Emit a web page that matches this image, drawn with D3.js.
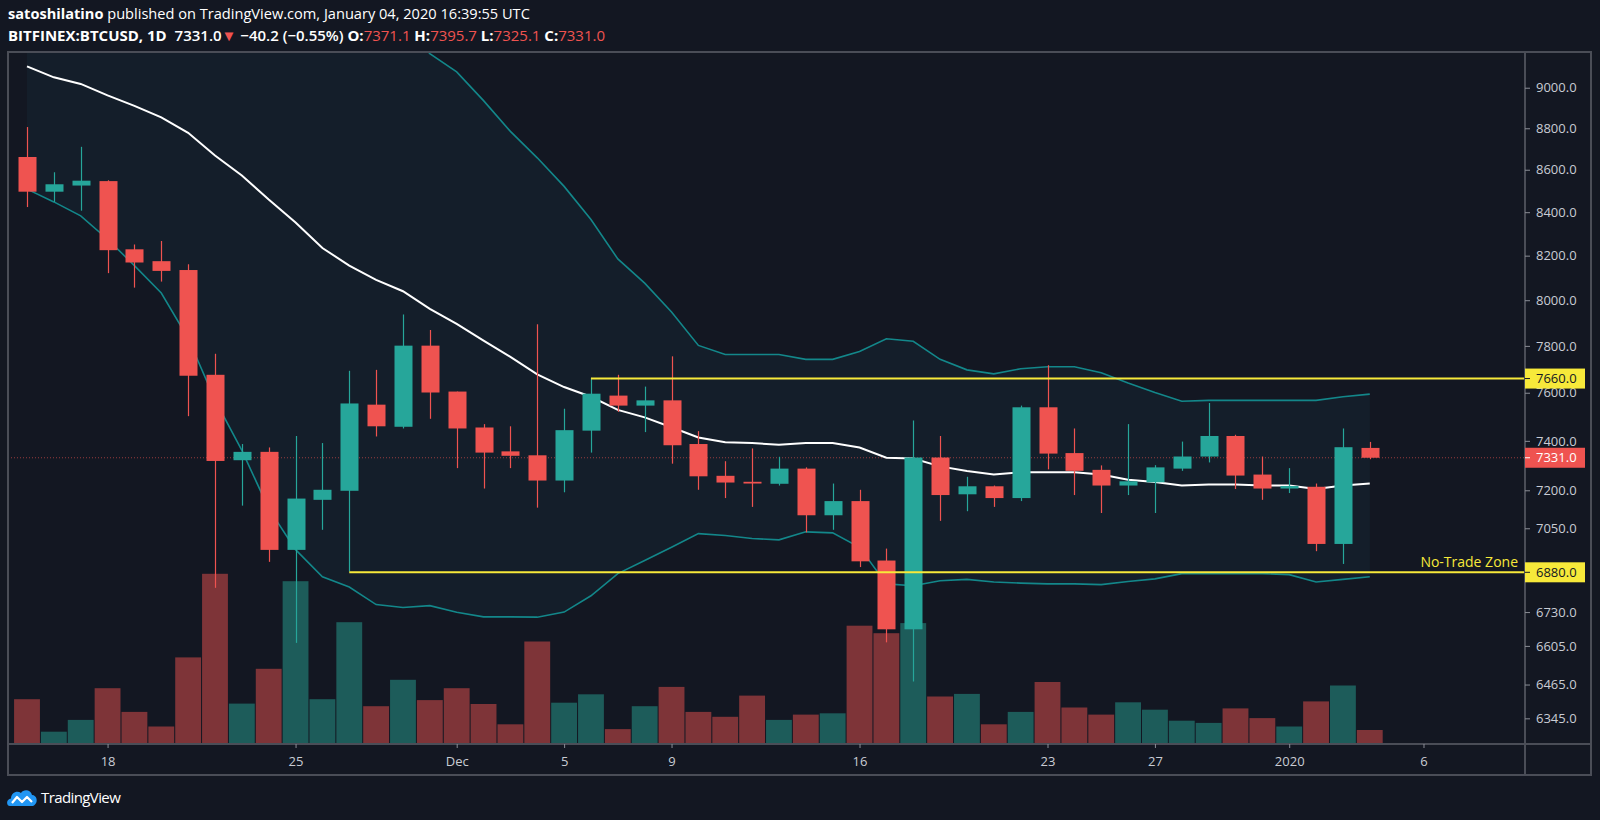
<!DOCTYPE html>
<html><head><meta charset="utf-8">
<script src="https://cdn.jsdelivr.net/npm/d3@7"></script>
<style>
html,body{margin:0;padding:0;background:#131722;}
svg{display:block;font-family:"Open Sans",sans-serif;}
</style></head><body>
<svg id="chart" width="1600" height="820"></svg>
<script>
// ---------- data ----------
const startDate = "2019-11-15";
const opens  = [8661,8496,8525,8546,8229,8175,8135,7676,7321,7355,6966,7162,7198,7550,7458,7801,7605,7455,7357,7341,7239,7442,7588,7546,7568,7387,7258,7234,7226,7287,7101,7157,6925,6666,7332,7184,7216,7169,7539,7350,7282,7219,7232,7287,7336,7420,7263,7207,7214,6989,7371.1];
const highs  = [8806,8588,8710,8550,8251,8267,8161,7766,7387,7373,7420,7391,7693,7697,7937,7869,7605,7469,7460,7894,7533,7663,7676,7626,7755,7440,7317,7369,7335,7292,7227,7202,6971,7484,7420,7254,7219,7546,7717,7451,7300,7469,7301,7397,7557,7425,7336,7289,7227,7451,7395.7];
const lows   = [8424,8448,8407,8121,8056,8083,7502,6821,7139,6920,6616,7044,6883,7418,7451,7491,7289,7207,7289,7131,7192,7352,7520,7436,7307,7202,7169,7134,7219,7034,7044,6900,6618,6476,7079,7117,7134,7157,7284,7181,7110,7181,7110,7278,7312,7205,7162,7189,6961,6912,7325.1];
const closes = [8496,8531,8548,8225,8169,8131,7672,7318,7355,6966,7167,7202,7555,7460,7801,7601,7451,7352,7339,7239,7444,7596,7546,7568,7382,7256,7231,7227,7287,7101,7157,6922,6666,7332,7181,7216,7169,7539,7348,7278,7219,7236,7292,7336,7420,7259,7207,7217,6989,7374,7331.0];
const volumes = [2688,738,1446,3348,1926,1050,5196,10212,2424,4512,9768,2688,7308,2268,3852,2634,3348,2400,1182,6150,2478,2982,894,2268,3426,1926,1632,2904,1446,1764,1842,7098,6648,7254,2850,3006,1182,1926,3720,2190,1764,2502,2058,1398,1266,2136,1554,1050,2556,3510,840];
const bbBasis = [9107,9052,9019,8962,8910,8853,8778,8668,8573,8459,8352,8235,8155,8091,8040,7962,7896,7823,7753,7678,7624,7583,7528,7497,7456,7414,7394,7391,7384,7391,7391,7373,7331,7328,7296,7277,7263,7272,7272,7272,7263,7242,7233,7219,7223,7223,7219,7219,7205,7219,7227];
const bbUpper = [9750,9740,9730,9720,9710,9700,9690,9670,9640,9610,9580,9540,9490,9420,9330,9172,9079,8936,8785,8657,8521,8366,8185,8076,7948,7802,7763,7763,7763,7742,7742,7776,7831,7820,7742,7697,7680,7702,7710,7710,7685,7641,7601,7564,7568,7568,7568,7568,7568,7583,7594];
const bbLower = [8508,8448,8383,8275,8155,8032,7833,7570,7361,7127,6967,6863,6824,6758,6747,6754,6729,6712,6712,6711,6730,6791,6875,6925,6976,7029,7022,7010,7005,7036,7032,6976,6836,6829,6848,6853,6843,6839,6836,6836,6833,6845,6855,6875,6875,6875,6875,6871,6843,6853,6863];
const priceTicks = [9000,8800,8600,8400,8200,8000,7800,7600,7400,7200,7050,6730,6605,6465,6345];
const timeTickDates  = ["2019-11-18","2019-11-25","2019-12-01","2019-12-05","2019-12-09","2019-12-16","2019-12-23","2019-12-27","2020-01-01","2020-01-06"];
const timeTickLabels = ["18","25","Dec","5","9","16","23","27","2020","6"];
const levelPrices = [7660, 6880];
const levelStarts = ["2019-12-06","2019-11-27"];
const zoneLabel = "No-Trade Zone";
const lastPrice = 7331.0;

// ---------- layout ----------
const W = 1600, H = 820;
const P = {left: 8, right: 1525, top: 52, bottom: 744};
const axisRight = 1591, axisBottom = 775;
const BG = "#131722", UP = "#26a69a", DOWN = "#ef5350", YEL = "#f7e93a";
const VOL_UP = "#1d5c5a", VOL_DOWN = "#7e3438", BAND = "#13878a";

const svg = d3.select("#chart");
svg.append("rect").attr("width", W).attr("height", H).attr("fill", BG);

const DAY = 86400000;
const t0 = d3.utcParse("%Y-%m-%d")(startDate).getTime();
const dates = d3.utcDay.range(new Date(t0), new Date(t0 + opens.length * DAY));
const x = d3.scaleUtc()
  .domain([new Date(t0 - 0.7075 * DAY), new Date(t0 + 55.78 * DAY)])
  .range([P.left, P.right]);
const y = d3.scaleLog().domain([9180, 6255.4]).range([P.top, P.bottom]);
const vy = d3.scaleLinear().domain([0, d3.max(volumes)]).range([P.bottom, P.bottom - 170.2]);
const step = x(dates[1]) - x(dates[0]);

const data = dates.map((d, i) => ({d, o: opens[i], h: highs[i], l: lows[i], c: closes[i], v: volumes[i],
  mid: bbBasis[i], up: bbUpper[i], lo: bbLower[i]}));

svg.append("clipPath").attr("id", "plotclip").append("rect")
  .attr("x", P.left).attr("y", P.top).attr("width", P.right - P.left).attr("height", P.bottom - P.top);
const g = svg.append("g").attr("clip-path", "url(#plotclip)");

// band fill
g.append("path").datum(data)
  .attr("d", d3.area().x(d => x(d.d)).y0(d => y(d.lo)).y1(d => y(d.up)))
  .attr("fill", "#1b3a4a").attr("fill-opacity", 0.22);

// volume
g.append("g").selectAll("rect").data(data).join("rect")
  .attr("x", d => x(d.d) - step / 2 + 0.5)
  .attr("width", step - 1)
  .attr("y", d => vy(d.v))
  .attr("height", d => vy(0) - vy(d.v))
  .attr("fill", d => d.c >= d.o ? VOL_UP : VOL_DOWN);

// last price dotted line
g.append("line").attr("x1", P.left).attr("x2", P.right)
  .attr("y1", y(lastPrice)).attr("y2", y(lastPrice))
  .attr("stroke", DOWN).attr("stroke-width", 1).attr("stroke-dasharray", "1,2").attr("opacity", 0.6);

// bands
const line = acc => d3.line().x(d => x(d.d)).y(d => y(acc(d)));
g.append("path").datum(data).attr("d", line(d => d.up)).attr("fill", "none").attr("stroke", BAND).attr("stroke-width", 1.6);
g.append("path").datum(data).attr("d", line(d => d.lo)).attr("fill", "none").attr("stroke", BAND).attr("stroke-width", 1.6);
g.append("path").datum(data).attr("d", line(d => d.mid)).attr("fill", "none").attr("stroke", "#ffffff").attr("stroke-width", 2);

// candles
const bw = 18;
const cg = g.append("g").selectAll("g").data(data).join("g");
cg.append("line")
  .attr("x1", d => Math.round(x(d.d)) + 0.5).attr("x2", d => Math.round(x(d.d)) + 0.5)
  .attr("y1", d => y(d.h)).attr("y2", d => y(d.l))
  .attr("stroke", d => d.c >= d.o ? UP : DOWN).attr("stroke-width", 1.2);
cg.append("rect")
  .attr("x", d => Math.round(x(d.d)) + 0.5 - bw / 2).attr("width", bw)
  .attr("y", d => y(Math.max(d.o, d.c)))
  .attr("height", d => Math.max(1, Math.abs(y(d.o) - y(d.c))))
  .attr("fill", d => d.c >= d.o ? UP : DOWN);

// level lines
const pd = d3.utcParse("%Y-%m-%d");
levelPrices.forEach((p, i) => {
  svg.append("line").attr("x1", x(pd(levelStarts[i]))).attr("x2", P.right)
    .attr("y1", y(p)).attr("y2", y(p)).attr("stroke", YEL).attr("stroke-width", 2);
});
svg.append("text").attr("x", P.right - 7).attr("y", y(levelPrices[1]) - 5)
  .attr("text-anchor", "end").attr("fill", YEL).attr("font-size", 14).text(zoneLabel);

// frame
const frame = svg.append("g").attr("fill", "none").attr("stroke", "#4a4d57").attr("stroke-width", 2);
frame.append("rect").attr("x", P.left).attr("y", P.top).attr("width", axisRight - P.left).attr("height", axisBottom - P.top);
frame.append("line").attr("x1", P.right).attr("x2", P.right).attr("y1", P.top).attr("y2", axisBottom);
frame.append("line").attr("x1", P.left).attr("x2", axisRight).attr("y1", P.bottom).attr("y2", P.bottom);

// y axis
const yAxis = d3.axisRight(y).tickValues(priceTicks).tickFormat(d3.format(".1f")).tickSize(5).tickPadding(6);
const ya = svg.append("g").attr("transform", `translate(${P.right},0)`).call(yAxis);
ya.select(".domain").remove();
ya.selectAll("line").attr("stroke", "#8a8d96");
ya.selectAll("text").attr("fill", "#c9ccd4").attr("font-size", 13).attr("font-family", "Open Sans");

// x axis
const xAxis = d3.axisBottom(x).tickValues(timeTickDates.map(pd)).tickFormat((d, i) => timeTickLabels[i]).tickSize(4).tickPadding(9);
const xa = svg.append("g").attr("transform", `translate(0,${P.bottom})`).call(xAxis);
xa.select(".domain").remove();
xa.selectAll("line").attr("stroke", "#8a8d96");
xa.selectAll("text").attr("fill", "#c9ccd4").attr("font-size", 13).attr("font-family", "Open Sans");

// price labels on axis
function priceTag(p, fill, color) {
  const yy = y(p);
  svg.append("rect").attr("x", P.right).attr("y", yy - 10).attr("width", 60).attr("height", 20).attr("fill", fill);
  svg.append("line").attr("x1", P.right).attr("x2", P.right + 5).attr("y1", yy).attr("y2", yy).attr("stroke", color);
  svg.append("text").attr("x", P.right + 11).attr("y", yy).attr("dy", "0.35em").attr("fill", color)
    .attr("font-size", 13).text(d3.format(".1f")(p));
}
priceTag(levelPrices[0], YEL, "#131722");
priceTag(lastPrice, DOWN, "#ffffff");
priceTag(levelPrices[1], YEL, "#131722");

// header
const h1 = svg.append("text").attr("x", 8).attr("y", 18.5).attr("fill", "#ffffff").attr("font-size", 14.6);
h1.append("tspan").attr("font-weight", 700).text("satoshilatino");
h1.append("tspan").text(" published on TradingView.com, January 04, 2020 16:39:55 UTC");
const h2 = svg.append("text").attr("x", 8).attr("y", 41).attr("fill", "#ffffff").attr("font-size", 15)
  .attr("font-weight", 600);
h2.append("tspan").attr("font-weight", 700).text("BITFINEX:BTCUSD, 1D");
h2.append("tspan").attr("dx", 4).text(" 7331.0");
h2.append("tspan").attr("fill", DOWN).text("▼");
h2.append("tspan").text(" −40.2 (−0.55%) ");
[["O:", opens[50]], ["H:", highs[50]], ["L:", lows[50]], ["C:", closes[50]]].forEach(([k, v], i) => {
  h2.append("tspan").attr("font-weight", 700).text((i ? " " : "") + k);
  h2.append("tspan").attr("fill", DOWN).attr("font-weight", 400).text(d3.format(".1f")(v));
});

// logo
const logo = svg.append("g").attr("transform", "translate(7,789)");
logo.append("path").attr("d", "M3,17 C-1,17 -1,10 4,9.5 C4,4 10,1 14,4 C16,0 24,0 25,6 C30,6 31,13 28,15.5 C27,17 26,17 25,17 Z")
  .attr("fill", "#2196f3");
logo.append("path").attr("d", "M5,14 L10,8 L15,13 L20,8 L25,13").attr("fill", "none").attr("stroke", "#ffffff").attr("stroke-width", 2.2)
  .attr("stroke-linejoin", "round");
svg.append("text").attr("x", 41).attr("y", 803).attr("fill", "#ffffff").attr("font-size", 15).attr("letter-spacing", -0.6).text("TradingView");
</script>
</body></html>
